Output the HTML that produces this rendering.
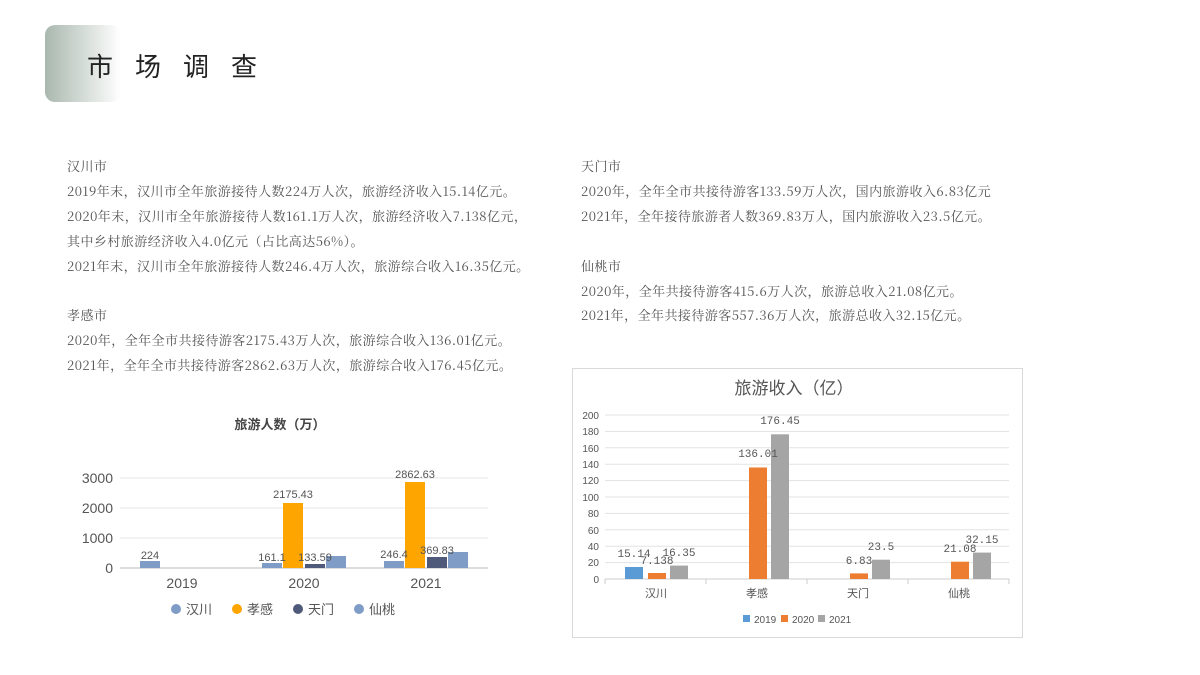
<!DOCTYPE html><html><head><meta charset="utf-8"><style>
body{margin:0;width:1200px;height:675px;background:#fff;position:relative;overflow:hidden;font-family:"Noto Serif CJK SC",serif;}
.t{position:absolute;font-size:13px;color:#555;white-space:nowrap;line-height:17px;letter-spacing:0.45px;}
.b{font-family:"Liberation Sans","Noto Sans CJK SC",sans-serif;}
</style></head><body>
<div style="position:absolute;left:45px;top:25px;width:76px;height:77px;border-radius:10px;background:linear-gradient(90deg,#a9b8ae,#fff);"></div>
<div class="b" style="position:absolute;left:87px;top:47px;font-size:26px;letter-spacing:22px;color:#222;">市场调查</div>

<div class="t" style="left:67px;top:157px;">汉川市</div>
<div class="t" style="left:67px;top:182px;">2019年末，汉川市全年旅游接待人数224万人次，旅游经济收入15.14亿元。</div>
<div class="t" style="left:67px;top:207px;">2020年末，汉川市全年旅游接待人数161.1万人次，旅游经济收入7.138亿元，</div>
<div class="t" style="left:67px;top:232px;">其中乡村旅游经济收入4.0亿元（占比高达56%）。</div>
<div class="t" style="left:67px;top:257px;">2021年末，汉川市全年旅游接待人数246.4万人次，旅游综合收入16.35亿元。</div>
<div class="t" style="left:67px;top:306px;">孝感市</div>
<div class="t" style="left:67px;top:331px;">2020年，全年全市共接待游客2175.43万人次，旅游综合收入136.01亿元。</div>
<div class="t" style="left:67px;top:356px;">2021年，全年全市共接待游客2862.63万人次，旅游综合收入176.45亿元。</div>

<div class="t" style="left:581px;top:157px;">天门市</div>
<div class="t" style="left:581px;top:182px;">2020年，全年全市共接待游客133.59万人次，国内旅游收入6.83亿元</div>
<div class="t" style="left:581px;top:207px;">2021年，全年接待旅游者人数369.83万人，国内旅游收入23.5亿元。</div>
<div class="t" style="left:581px;top:257px;">仙桃市</div>
<div class="t" style="left:581px;top:282px;">2020年，全年共接待游客415.6万人次，旅游总收入21.08亿元。</div>
<div class="t" style="left:581px;top:306px;">2021年，全年共接待游客557.36万人次，旅游总收入32.15亿元。</div>

<svg width="1200" height="675" style="position:absolute;left:0;top:0" font-family="Liberation Sans, Noto Sans CJK SC, sans-serif">
<text x="280" y="429" font-size="13" font-weight="bold" fill="#444" text-anchor="middle">旅游人数（万）</text>
<g stroke="#e6e6e6"><line x1="120" y1="478" x2="488" y2="478"/><line x1="120" y1="508" x2="488" y2="508"/><line x1="120" y1="538" x2="488" y2="538"/></g>
<line x1="120" y1="568" x2="488" y2="568" stroke="#bbb"/>
<g font-size="14" fill="#555" text-anchor="end"><text x="113" y="483">3000</text><text x="113" y="513">2000</text><text x="113" y="543">1000</text><text x="113" y="573">0</text></g>
<g font-size="14" fill="#555" text-anchor="middle"><text x="182" y="588">2019</text><text x="304" y="588">2020</text><text x="426" y="588">2021</text></g>
<rect x="140" y="561" width="20" height="7" fill="#7f9cc6"/>
<rect x="262" y="563" width="20" height="5" fill="#7f9cc6"/>
<rect x="283" y="503" width="20" height="65" fill="#ffa500"/>
<rect x="305" y="564" width="20" height="4" fill="#4f5a7a"/>
<rect x="326" y="556" width="20" height="12" fill="#7f9cc6"/>
<rect x="384" y="561" width="20" height="7" fill="#7f9cc6"/>
<rect x="405" y="482" width="20" height="86" fill="#ffa500"/>
<rect x="427" y="557" width="20" height="11" fill="#4f5a7a"/>
<rect x="448" y="552" width="20" height="16" fill="#7f9cc6"/>
<g font-size="11" fill="#555" text-anchor="middle">
<text x="150" y="559">224</text><text x="272" y="561">161.1</text><text x="293" y="498">2175.43</text><text x="315" y="561">133.59</text>
<text x="394" y="558">246.4</text><text x="415" y="478">2862.63</text><text x="437" y="554">369.83</text></g>
<g font-size="13" fill="#555">
<circle cx="176" cy="609" r="5" fill="#7f9cc6"/><text x="186" y="614">汉川</text>
<circle cx="237" cy="609" r="5" fill="#ffa500"/><text x="247" y="614">孝感</text>
<circle cx="298" cy="609" r="5" fill="#4f5a7a"/><text x="308" y="614">天门</text>
<circle cx="359" cy="609" r="5" fill="#7f9cc6"/><text x="369" y="614">仙桃</text></g>

<rect x="572.5" y="368.5" width="450" height="269" fill="none" stroke="#d9d9d9"/>
<text x="794" y="394" font-size="17" fill="#555" text-anchor="middle">旅游收入（亿）</text>
<g stroke="#e3e3e3">
<line x1="605" y1="415" x2="1009" y2="415"/><line x1="605" y1="431.4" x2="1009" y2="431.4"/><line x1="605" y1="447.8" x2="1009" y2="447.8"/><line x1="605" y1="464.2" x2="1009" y2="464.2"/><line x1="605" y1="480.6" x2="1009" y2="480.6"/><line x1="605" y1="497" x2="1009" y2="497"/><line x1="605" y1="513.4" x2="1009" y2="513.4"/><line x1="605" y1="529.8" x2="1009" y2="529.8"/><line x1="605" y1="546.2" x2="1009" y2="546.2"/><line x1="605" y1="562.6" x2="1009" y2="562.6"/></g>
<line x1="605" y1="579" x2="1009" y2="579" stroke="#ccc"/>
<g stroke="#ccc"><line x1="605" y1="579" x2="605" y2="584"/><line x1="706" y1="579" x2="706" y2="584"/><line x1="807" y1="579" x2="807" y2="584"/><line x1="908" y1="579" x2="908" y2="584"/><line x1="1009" y1="579" x2="1009" y2="584"/></g>
<g font-size="10" fill="#555" text-anchor="end">
<text x="599" y="419">200</text><text x="599" y="435">180</text><text x="599" y="452">160</text><text x="599" y="468">140</text><text x="599" y="484">120</text><text x="599" y="501">100</text><text x="599" y="517">80</text><text x="599" y="534">60</text><text x="599" y="550">40</text><text x="599" y="566">20</text><text x="599" y="583">0</text></g>
<g font-size="11" fill="#555" text-anchor="middle"><text x="656" y="597">汉川</text><text x="757" y="597">孝感</text><text x="858" y="597">天门</text><text x="959" y="597">仙桃</text></g>
<rect x="625" y="567" width="18" height="12" fill="#5b9bd5"/>
<rect x="648" y="573" width="18" height="6" fill="#ed7d31"/>
<rect x="670" y="565.6" width="18" height="13.4" fill="#a5a5a5"/>
<rect x="749" y="467.5" width="18" height="111.5" fill="#ed7d31"/>
<rect x="771" y="434.3" width="18" height="144.7" fill="#a5a5a5"/>
<rect x="850" y="573.4" width="18" height="5.6" fill="#ed7d31"/>
<rect x="872" y="559.7" width="18" height="19.3" fill="#a5a5a5"/>
<rect x="951" y="561.7" width="18" height="17.3" fill="#ed7d31"/>
<rect x="973" y="552.6" width="18" height="26.4" fill="#a5a5a5"/>
<g font-family="Liberation Mono, Noto Sans CJK SC, monospace" font-size="11" fill="#555" text-anchor="middle">
<text x="634" y="557">15.14</text><text x="657" y="564">7.138</text><text x="679" y="556">16.35</text>
<text x="758" y="457">136.01</text><text x="780" y="424">176.45</text>
<text x="859" y="564">6.83</text><text x="881" y="550">23.5</text>
<text x="960" y="552">21.08</text><text x="982" y="543">32.15</text></g>
<g font-size="10" fill="#555">
<rect x="743" y="615" width="7" height="7" fill="#5b9bd5"/><text x="754" y="623">2019</text>
<rect x="781" y="615" width="7" height="7" fill="#ed7d31"/><text x="792" y="623">2020</text>
<rect x="818" y="615" width="7" height="7" fill="#a5a5a5"/><text x="829" y="623">2021</text></g>
</svg>
</body></html>
